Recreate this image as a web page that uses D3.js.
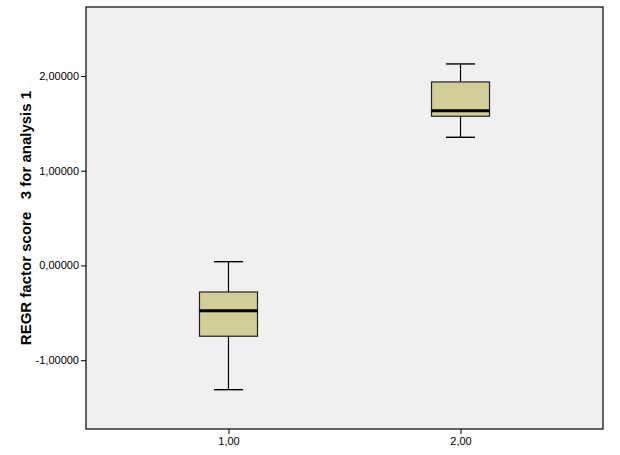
<!DOCTYPE html>
<html><head><meta charset="utf-8">
<script src="https://cdn.jsdelivr.net/npm/d3@7"></script>
<style>body{margin:0;background:#fff;} text{font-family:"Liberation Sans",Arial,sans-serif;}</style>
</head><body>
<svg id="c" width="620" height="455"></svg>
<script>
const categories = ["1,00", "2,00"];
const whiskerLow = [-1.311, 1.353];
const q1 = [-0.747, 1.575];
const median = [-0.477, 1.634];
const q3 = [-0.280, 1.937];
const whiskerHigh = [0.040, 2.127];
const yTicks = [-1, 0, 1, 2];
const yTickLabels = ["-1,00000", "0,00000", "1,00000", "2,00000"];
const yLabel = "REGR factor score   3 for analysis 1";

const svg = d3.select("#c");
const L = 86, R = 603, T = 7, B = 429;
const x = d3.scalePoint().domain(categories).range([L, R]).padding(0.614);
const y = d3.scaleLinear().domain([-1.726, 2.728]).range([B, T]);

svg.append("rect").attr("x", L).attr("y", T).attr("width", R - L).attr("height", B - T)
  .attr("fill", "#f0f0f0");

const data = categories.map((c, i) => ({c, lo: whiskerLow[i], q1: q1[i], med: median[i], q3: q3[i], hi: whiskerHigh[i]}));
const bw = 58, cw = 29;
const g = svg.append("g");
data.forEach(d => {
  const cx = x(d.c);
  g.append("line").attr("x1", cx).attr("x2", cx).attr("y1", y(d.hi)).attr("y2", y(d.q3)).attr("stroke", "#000").attr("stroke-width", 1.2);
  g.append("line").attr("x1", cx).attr("x2", cx).attr("y1", y(d.q1)).attr("y2", y(d.lo)).attr("stroke", "#000").attr("stroke-width", 1.2);
  g.append("line").attr("x1", cx - cw/2).attr("x2", cx + cw/2).attr("y1", y(d.hi)).attr("y2", y(d.hi)).attr("stroke", "#000").attr("stroke-width", 1.4);
  g.append("line").attr("x1", cx - cw/2).attr("x2", cx + cw/2).attr("y1", y(d.lo)).attr("y2", y(d.lo)).attr("stroke", "#000").attr("stroke-width", 1.4);
  g.append("rect").attr("x", cx - bw/2).attr("y", y(d.q3)).attr("width", bw).attr("height", y(d.q1) - y(d.q3))
    .attr("fill", "#d3ce98").attr("stroke", "#222").attr("stroke-width", 1.2);
  g.append("line").attr("x1", cx - bw/2).attr("x2", cx + bw/2).attr("y1", y(d.med)).attr("y2", y(d.med)).attr("stroke", "#000").attr("stroke-width", 3);
});

svg.append("rect").attr("x", L).attr("y", T).attr("width", R - L).attr("height", B - T)
  .attr("fill", "none").attr("stroke", "#000").attr("stroke-width", 1.2);

const yAxis = d3.axisLeft(y).tickValues(yTicks).tickFormat((d, i) => yTickLabels[i]).tickSize(5).tickPadding(2);
const ya = svg.append("g").attr("transform", `translate(${L},0)`).call(yAxis);
ya.select(".domain").remove();
ya.selectAll("text").attr("font-size", 11).attr("fill", "#000").style("font-family", "'Liberation Sans',Arial,sans-serif");

const xAxis = d3.axisBottom(x).tickSize(5).tickPadding(3);
const xa = svg.append("g").attr("transform", `translate(0,${B})`).call(xAxis);
xa.select(".domain").remove();
xa.selectAll("text").attr("font-size", 11).attr("fill", "#000").style("font-family", "'Liberation Sans',Arial,sans-serif");

svg.append("text").attr("transform", `translate(31,${(T + B) / 2}) rotate(-90)`)
  .attr("text-anchor", "middle").attr("font-size", 15).attr("font-weight", "bold").attr("fill", "#000")
  .attr("xml:space", "preserve").style("white-space", "pre")
  .text(yLabel);
</script>
</body></html>
